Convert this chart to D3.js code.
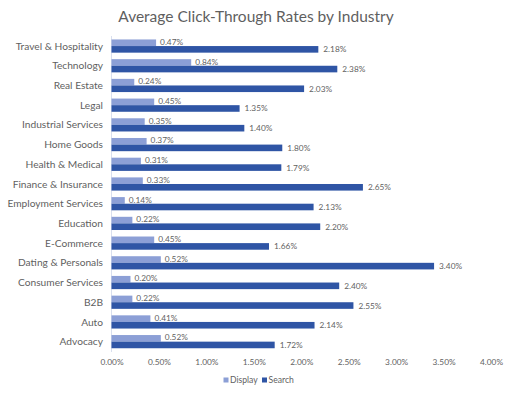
<!DOCTYPE html>
<html>
<head>
<meta charset="utf-8">
<script src="https://cdn.jsdelivr.net/npm/d3@7"></script>
<style>
  body { margin: 0; background: #fff; }
  text { font-family: "Lato", "Open Sans", sans-serif; }
</style>
</head>
<body>
<svg id="chart" width="512" height="394"></svg>
<script>
// 產業類別（由上到下）
const industries = [
  'Travel & Hospitality', 'Technology', 'Real Estate', 'Legal',
  'Industrial Services', 'Home Goods', 'Health & Medical', 'Finance & Insurance',
  'Employment Services', 'Education', 'E-Commerce', 'Dating & Personals',
  'Consumer Services', 'B2B', 'Auto', 'Advocacy'
];
const displayRates = [0.47, 0.84, 0.24, 0.45, 0.35, 0.37, 0.31, 0.33, 0.14, 0.22, 0.45, 0.52, 0.20, 0.22, 0.41, 0.52];
const searchRates = [2.18, 2.38, 2.03, 1.35, 1.40, 1.80, 1.79, 2.65, 2.13, 2.20, 1.66, 3.40, 2.40, 2.55, 2.14, 1.72];
const xTicks = [0, 0.5, 1, 1.5, 2, 2.5, 3, 3.5, 4];
const seriesNames = ['Display', 'Search'];

const displayColor = '#8c9fd6';
const searchColor = '#2f55a5';
const textColor = '#5f5f5f';

const svg = d3.select('#chart');

const x = d3.scaleLinear().domain([0, 4]).range([111.5, 491]);
const y = d3.scaleBand().domain(industries).range([36.2, 351.5]);
const barH = 6.6;

// 標題
svg.append('text')
  .attr('x', 256)
  .attr('y', 22)
  .attr('text-anchor', 'middle')
  .attr('font-size', '15.5px')
  .attr('fill', textColor)
  .text('Average Click-Through Rates by Industry');

// 垂直軸線
svg.append('line')
  .attr('x1', x(0)).attr('x2', x(0))
  .attr('y1', 36).attr('y2', 352)
  .attr('stroke', '#d9dfee')
  .attr('stroke-width', 1);

// 類別文字
svg.append('g')
  .selectAll('text')
  .data(industries)
  .join('text')
  .attr('x', 103)
  .attr('y', d => y(d) + y.bandwidth() / 2)
  .attr('dy', '0.35em')
  .attr('text-anchor', 'end')
  .attr('font-size', '10.2px')
  .attr('fill', textColor)
  .text(d => d);

const rows = industries.map((name, i) => ({ name, display: displayRates[i], search: searchRates[i] }));

// Display 長條
svg.append('g')
  .selectAll('rect')
  .data(rows)
  .join('rect')
  .attr('x', x(0))
  .attr('y', d => y(d.name) + y.bandwidth() / 2 - barH)
  .attr('width', d => x(d.display) - x(0))
  .attr('height', barH)
  .attr('fill', displayColor);

// Search 長條
svg.append('g')
  .selectAll('rect')
  .data(rows)
  .join('rect')
  .attr('x', x(0))
  .attr('y', d => y(d.name) + y.bandwidth() / 2)
  .attr('width', d => x(d.search) - x(0))
  .attr('height', barH)
  .attr('fill', searchColor);

// 數值標籤
svg.append('g')
  .selectAll('text')
  .data(rows)
  .join('text')
  .attr('x', d => x(d.display) + 4)
  .attr('y', d => y(d.name) + y.bandwidth() / 2 - 1.2)
  .attr('font-size', '8.3px')
  .attr('fill', textColor)
  .text(d => d.display.toFixed(2) + '%');

svg.append('g')
  .selectAll('text')
  .data(rows)
  .join('text')
  .attr('x', d => x(d.search) + 5)
  .attr('y', d => y(d.name) + y.bandwidth() / 2 + 6.3)
  .attr('font-size', '8.3px')
  .attr('fill', textColor)
  .text(d => d.search.toFixed(2) + '%');

// X 軸刻度文字
const xAxis = d3.axisBottom(x)
  .tickValues(xTicks)
  .tickFormat(d => d.toFixed(2) + '%')
  .tickSize(0)
  .tickPadding(0);

const axisG = svg.append('g')
  .attr('transform', 'translate(0, 359.5)')
  .call(xAxis);
axisG.select('.domain').remove();
axisG.selectAll('text')
  .attr('font-size', '8.3px')
  .attr('fill', textColor)
  .style('font-family', '"Lato", "Open Sans", sans-serif');

// 圖例
const legend = svg.append('g').attr('transform', 'translate(223.5, 380)');
const legendX = [0, 38.5];
seriesNames.forEach((name, i) => {
  const g = legend.append('g').attr('transform', `translate(${legendX[i]}, 0)`);
  g.append('rect')
    .attr('x', 0).attr('y', -2.5)
    .attr('width', 5).attr('height', 5)
    .attr('fill', i === 0 ? displayColor : searchColor);
  g.append('text')
    .attr('x', 6.5)
    .attr('y', 0)
    .attr('dy', '0.34em')
    .attr('font-size', '8.6px')
    .attr('fill', textColor)
    .text(name);
});
</script>
</body>
</html>
